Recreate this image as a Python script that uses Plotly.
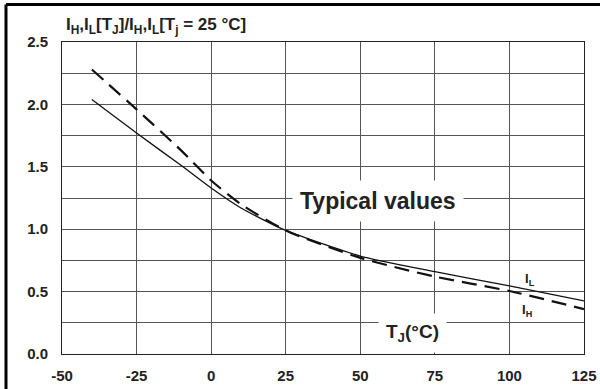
import plotly.graph_objects as go

# Data
temp_c = [-40, -25, -10, 0, 10, 25, 50, 75, 100, 125]
i_l_ratio = [2.04, 1.77, 1.51, 1.33, 1.17, 0.99, 0.785, 0.66, 0.545, 0.425]
i_h_ratio = [2.28, 1.96, 1.63, 1.39, 1.20, 0.99, 0.77, 0.62, 0.505, 0.36]

x_ticks = [-50, -25, 0, 25, 50, 75, 100, 125]
x_ticklabels = ["-50", "-25", "0", "25", "50", "75", "100", "125"]
y_ticks = [0, 0.25, 0.5, 0.75, 1.0, 1.25, 1.5, 1.75, 2.0, 2.25, 2.5]
y_ticklabels = ["0.0", "", "0.5", "", "1.0", "", "1.5", "", "2.0", "", "2.5"]

FONT = "Liberation Sans, Arial, sans-serif"

fig = go.Figure()
fig.add_trace(go.Scatter(x=temp_c, y=i_l_ratio, mode="lines", name="I_L",
                         line=dict(color="#111", width=1.3, shape="spline", smoothing=0.6)))
fig.add_trace(go.Scatter(x=temp_c, y=i_h_ratio, mode="lines", name="I_H",
                         line=dict(color="#111", width=2.2, dash="15px,8px",
                                   shape="spline", smoothing=0.6)))

axis_common = dict(showgrid=True, gridcolor="#555", gridwidth=1, zeroline=False,
                   showline=True, linecolor="#222", linewidth=1, mirror=True,
                   automargin=False,
                   tickfont=dict(family=FONT, size=15, color="#222", weight="bold"))

fig.update_xaxes(range=[-50, 125], tickmode="array", tickvals=x_ticks,
                 ticktext=x_ticklabels, ticks="", ticklabelstandoff=8, **axis_common)
fig.update_yaxes(range=[0, 2.5], tickmode="array", tickvals=y_ticks,
                 ticktext=y_ticklabels, ticks="", ticklabelstandoff=10, **axis_common)

annotations = [
    dict(text="<b>I<sub>H</sub>,I<sub>L</sub>[T<sub>J</sub>]/I<sub>H</sub>,I<sub>L</sub>[T<sub>j</sub> = 25 °C]</b>",
         xref="paper", yref="paper", x=0.181, y=1.05, xanchor="center", yanchor="middle",
         showarrow=False, font=dict(family=FONT, size=17, color="#222")),
    dict(text="<b>Typical values</b>", x=56, y=1.23, xanchor="center", yanchor="middle",
         showarrow=False, bgcolor="white", borderpad=7,
         font=dict(family=FONT, size=23, color="#222")),
    dict(text="<b>T<sub>J</sub>(°C)</b>", x=67.5, y=0.17, xanchor="center", yanchor="middle",
         showarrow=False, bgcolor="white", borderpad=7,
         font=dict(family=FONT, size=19, color="#222")),
    dict(text="<b>I<sub>L</sub></b>", x=107, y=0.60, xanchor="center", yanchor="middle",
         showarrow=False, font=dict(family=FONT, size=13, color="#222")),
    dict(text="<b>I<sub>H</sub></b>", x=106, y=0.35, xanchor="center", yanchor="middle",
         showarrow=False, font=dict(family=FONT, size=13, color="#222")),
]

shapes = [
    dict(type="line", xref="paper", yref="paper", x0=-0.1073, x1=-0.1073, y0=-0.2, y1=1.12,
         line=dict(color="black", width=3)),
    dict(type="line", xref="paper", yref="paper", x0=-0.1073, x1=1.05, y0=1.12, y1=1.12,
         line=dict(color="black", width=3)),
]

fig.update_layout(width=600, height=389, margin=dict(l=62, r=16, t=42, b=35),
                  paper_bgcolor="white", plot_bgcolor="white", showlegend=False,
                  annotations=annotations, shapes=shapes)

fig.write_html("out.html")
